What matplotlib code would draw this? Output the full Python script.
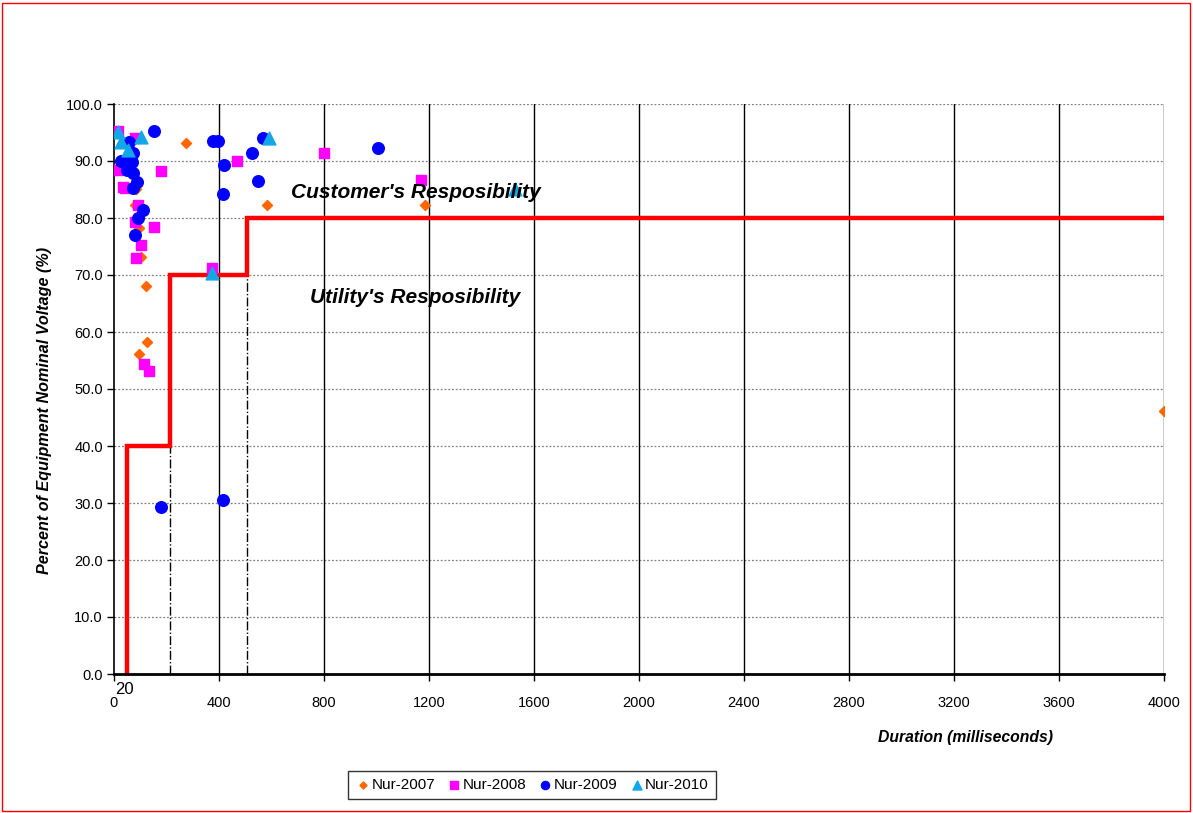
import matplotlib.pyplot as plt
from matplotlib.patches import Rectangle

plt.rcParams['font.family'] = ['Liberation Sans', 'DejaVu Sans']

# Nur-2007 (duration ms, % voltage)
x2007 = [274, 583, 1185, 4000, 122, 126, 95, 88, 80, 95, 103, 84]
y2007 = [93.2, 82.3, 82.3, 46.1, 68.1, 58.2, 56.1, 73.0, 82.3, 78.2, 73.2, 85.0]

# Nur-2008
x2008 = [15, 15, 80, 42, 179, 469, 800, 1170, 373, 152, 103, 84, 91, 80, 114, 133, 34]
y2008 = [95.2, 88.4, 94.0, 85.3, 88.2, 90.0, 91.4, 86.7, 71.2, 78.4, 75.3, 73.0, 82.3, 79.3, 54.4, 53.2, 85.4]

# Nur-2009
x2009 = [152, 377, 396, 419, 415, 526, 568, 549, 1006, 179, 415,
         57, 72, 42, 68, 49, 72, 87, 72, 110, 91, 80, 26, 53]
y2009 = [95.3, 93.5, 93.5, 89.3, 84.2, 91.4, 94.0, 86.5, 92.3, 29.3, 30.5,
         93.3, 91.4, 89.8, 89.8, 88.4, 87.9, 86.3, 85.3, 81.4, 80.0, 77.0, 90.0, 90.0]

# Nur-2010
x2010 = [15, 27, 103, 53, 590, 373, 1528]
y2010 = [95.0, 93.3, 94.2, 92.0, 94.0, 70.4, 85.0]

# responsibility boundary (step curve)
step_x = [50, 50, 215, 215, 505, 505, 4000]
step_y = [0, 40, 40, 70, 70, 80, 80]

x_ticks = [0, 400, 800, 1200, 1600, 2000, 2400, 2800, 3200, 3600, 4000]
y_ticks = [0, 10, 20, 30, 40, 50, 60, 70, 80, 90, 100]

fig = plt.figure(figsize=(11.93, 8.13), dpi=100)
ax = fig.add_axes([114 / 1193, 1 - 674 / 813, 1050 / 1193, 570 / 813])

ax.set_xlim(0, 4000)
ax.set_ylim(0, 100)
ax.set_xticks(x_ticks)
ax.set_yticks(y_ticks)
ax.set_yticklabels([f'{v:.1f}' for v in y_ticks])

# gridlines: dotted horizontal, solid vertical
for v in y_ticks[1:]:
    ax.axhline(v, color='#808080', lw=0.9, ls=(0, (1.5, 1.5)), zorder=1)
for v in x_ticks[1:]:
    ax.axvline(v, color='black', lw=1.0, zorder=1)

# dash-dot helper lines under the steps
ax.plot([215, 215], [0, 40], color='black', lw=1.0, ls='-.', zorder=1.5)
ax.plot([505, 505], [0, 70], color='black', lw=1.0, ls='-.', zorder=1.5)

ax.plot(step_x, step_y, color='#FF0000', lw=3.2, zorder=2, solid_joinstyle='miter')

ax.scatter(x2007, y2007, marker='D', s=26, color='#FF6600', label='Nur-2007', zorder=3)
ax.scatter(x2008, y2008, marker='s', s=62, color='#FF00FF', label='Nur-2008', zorder=4)
ax.scatter(x2009, y2009, marker='o', s=70, color='#0000FF', label='Nur-2009', zorder=5)
ax.scatter(x2010, y2010, marker='^', s=85, color='#12A8E8', label='Nur-2010', zorder=6)

for s in ['top', 'right']:
    ax.spines[s].set_visible(False)
ax.spines['left'].set_linewidth(1.2)
ax.spines['bottom'].set_linewidth(2.0)
ax.tick_params(axis='y', direction='out', length=5, width=1, labelsize=10.5, pad=3)
ax.tick_params(axis='x', direction='out', length=5, width=1, labelsize=10.5, pad=11)

ax.annotate('20', xy=(40, 0), xytext=(0, -11), textcoords='offset points',
            ha='center', va='center', fontsize=12)

ax.text(674, 84.4, "Customer's Resposibility", fontsize=15, fontweight='bold',
        fontstyle='italic', va='center', ha='left', zorder=7)
ax.text(747, 66.0, "Utility's Resposibility", fontsize=15, fontweight='bold',
        fontstyle='italic', va='center', ha='left', zorder=7)

fig.text(965 / 1193, 1 - 737 / 813, 'Duration (milliseconds)', fontsize=11.3,
         fontweight='bold', fontstyle='italic', ha='center', va='center')
fig.text(45 / 1193, 1 - 410 / 813, 'Percent of Equipment Nominal Voltage (%)',
         fontsize=11.6, fontweight='bold', fontstyle='italic', rotation=90,
         ha='center', va='center')

leg = fig.legend(loc='center', bbox_to_anchor=(532 / 1193, 1 - 785 / 813), ncol=4,
                 fontsize=11, frameon=True, fancybox=False, edgecolor='black',
                 markerscale=0.7, handletextpad=0.05, columnspacing=0.75,
                 borderpad=0.45, handlelength=1.0)
leg.get_frame().set_linewidth(1.0)

fig.patches.append(Rectangle((2 / 1193, 2 / 813), 1188 / 1193, 808 / 813,
                             transform=fig.transFigure, fill=False,
                             edgecolor='#FF0000', lw=1.0))

fig.savefig('out.png', dpi=100)
